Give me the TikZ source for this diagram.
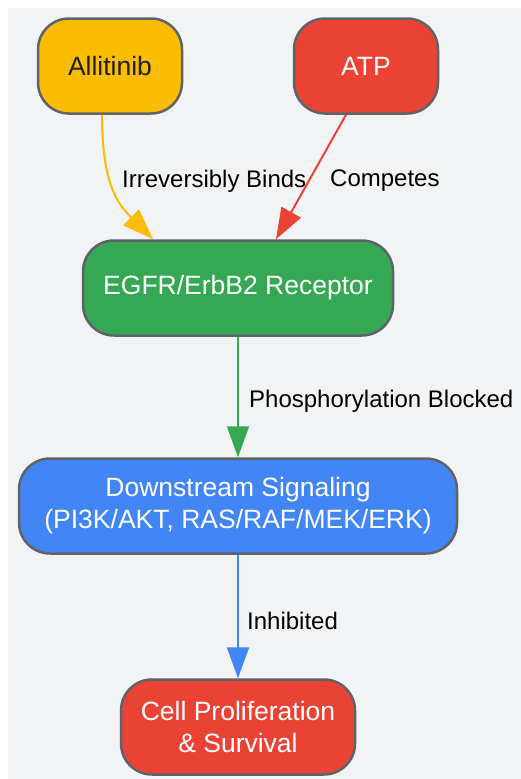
\documentclass[tikz,border=0pt]{standalone}
\usepackage{fontspec}
\setmainfont{Liberation Sans}
\usetikzlibrary{arrows.meta}

\definecolor{bgcol}{HTML}{F1F3F4}
\definecolor{edgecol}{HTML}{5F6368}
\definecolor{drugcol}{HTML}{FBBC04}
\definecolor{atpcol}{HTML}{EA4335}
\definecolor{rcptcol}{HTML}{34A853}
\definecolor{sigcol}{HTML}{4285F4}
\definecolor{cellcol}{HTML}{EA4335}
\definecolor{darktext}{HTML}{202124}

\begin{document}
\begin{tikzpicture}[x=1pt, y=-1pt,
    box/.style={draw=edgecol, line width=2.5pt, rounded corners=31pt, minimum height=95pt,
        inner sep=0pt, align=center, text=white, font=\fontsize{26.5}{32}\selectfont},
    flow/.style={line width=2pt, -{Triangle[length=31pt, width=22pt]}},
    lbl/.style={anchor=west, inner sep=0pt, text=black, font=\fontsize{24}{28}\selectfont}]
    \useasboundingbox (0,0) rectangle (521,779);
    \fill[white] (0,0) rectangle (521,779);
    \fill[bgcol] (8,8) rectangle (521,779);

    \node[box, fill=drugcol, text=darktext, minimum width=144pt] (allit) at (110,66) {Allitinib};
    \node[box, fill=atpcol, minimum width=144pt] (atp) at (366,66) {ATP};
    \node[box, fill=rcptcol, minimum width=310pt] (egfr) at (238,288) {EGFR/ErbB2 Receptor};
    \node[box, fill=sigcol, minimum width=438pt] (down) at (238,506) {Downstream Signaling\\(PI3K/AKT, RAS/RAF/MEK/ERK)};
    \node[box, fill=cellcol, minimum width=234pt] (cell) at (238,727) {Cell Proliferation\\\& Survival};

    \draw[flow, drugcol] ([xshift=-8pt]allit.south) .. controls +(0,70) and +(-35,-35) .. ([xshift=-85pt]egfr.north);
    \draw[flow, atpcol] ([xshift=-20pt]atp.south) -- ([xshift=38pt]egfr.north);
    \draw[flow, rcptcol] (egfr) -- (down);
    \draw[flow, sigcol] (down) -- (cell);

    \node[lbl] (binds) at (122,181) {Irreversibly Binds};
    \node[lbl] (compete) at (330,181) {Competes};
    \node[lbl] (phos) at (249,401) {Phosphorylation Blocked};
    \node[lbl] (inhib) at (247,621) {Inhibited};
\end{tikzpicture}
\end{document}
